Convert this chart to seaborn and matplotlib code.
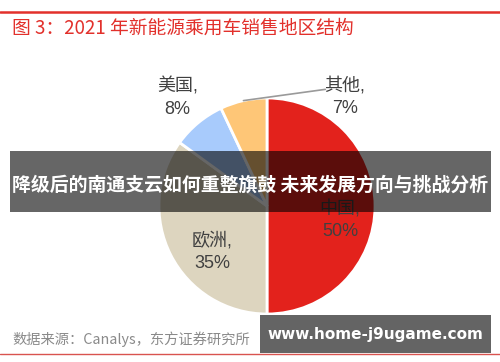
import numpy as np
import matplotlib
matplotlib.use("Agg")
import matplotlib.pyplot as plt
import seaborn as sns

regions = ["中国", "欧洲", "美国", "其他"]
shares = [50, 35, 8, 7]
colors = ["#E3221C", "#DDD5BF", "#A8CBFC", "#FEC677"]
title = "图 3：2021 年新能源乘用车销售地区结构"
source = "数据来源：Canalys，东方证券研究所"
banner = "降级后的南通支云如何重整旗鼓 未来发展方向与挑战分析"
watermark = "www.home-j9ugame.com"

sns.set_theme(style="white")
plt.rcParams['font.family'] = ['Noto Sans CJK SC', 'DejaVu Sans']
lab_family = ['Liberation Sans', 'Noto Sans CJK SC']

W, H = 500, 362
fig = plt.figure(figsize=(5, 3.62), dpi=100)
fig.patch.set_facecolor("white")

cx, cy, R = 267, 206, 108
ax = fig.add_axes([(cx - R) / W, (H - cy - R) / H, 2 * R / W, 2 * R / H])
wedges, _ = ax.pie(shares, colors=colors, startangle=90, counterclock=False,
                   radius=1.0, wedgeprops=dict(edgecolor="white", linewidth=2))
ax.set_xlim(-1, 1)
ax.set_ylim(-1, 1)
ax.set_aspect("equal")
ax.axis("off")

lab_color = "#404040"
fs = 13
def mid(w):
    return np.deg2rad((w.theta1 + w.theta2) / 2)

def label(x, y, i):
    ax.text(x, y, f"{regions[i]},\n{shares[i]}%", ha="center", va="center",
            fontsize=fs, color=lab_color, linespacing=1.4, family=lab_family)

# 中国
a = mid(wedges[0]) - np.deg2rad(11)
label(0.69 * np.cos(a), 0.69 * np.sin(a), 0)
# 欧洲
a = mid(wedges[1]) + np.deg2rad(13)
label(0.66 * np.cos(a), 0.66 * np.sin(a), 1)
# 美国
a = mid(wedges[2])
label(1.30 * np.cos(a), 1.30 * np.sin(a), 2)
# 其他 with leader line
a = mid(wedges[3])
p0 = (np.cos(a), np.sin(a))
ax.annotate("", xy=p0, xytext=(0.54, 1.08),
            arrowprops=dict(arrowstyle="-", color="#9a9a9a", lw=1.2, shrinkA=0, shrinkB=0),
            annotation_clip=False)
label(0.72, 1.01, 3)

# Title and rules
fig.add_artist(plt.Line2D([0, 1], [1 - 12 / H, 1 - 12 / H], color="#E2302B", lw=1.8))
fig.text(12 / W, 1 - 28 / H, title, color="#E2302B", fontsize=13.5, fontweight="medium",
         va="center", ha="left")
fig.text(12 / W, 1 - 339 / H, source, color="#8a8a8a", fontsize=10.3, va="center", ha="left")
fig.add_artist(plt.Line2D([0, 1], [1 - 354 / H, 1 - 354 / H], color="#D9534F", lw=1.0))

# Banner overlay
fig.add_artist(plt.Rectangle((10 / W, 1 - 212 / H), 481 / W, 61 / H, facecolor="black",
                             alpha=0.6, edgecolor="none", transform=fig.transFigure))
fig.text(250.5 / W, 1 - 185 / H, banner, color="white", fontsize=13.6, fontweight="bold",
         ha="center", va="center")

# Watermark box
fig.add_artist(plt.Rectangle((260 / W, 1 - 353 / H), 231 / W, 38 / H, facecolor="#646464",
                             edgecolor="none", transform=fig.transFigure))
fig.text(375.5 / W, 1 - 335 / H, watermark, color="white", fontsize=11, fontweight="bold",
         ha="center", va="center", family=["DejaVu Sans"])

fig.savefig("out.png", dpi=100)
